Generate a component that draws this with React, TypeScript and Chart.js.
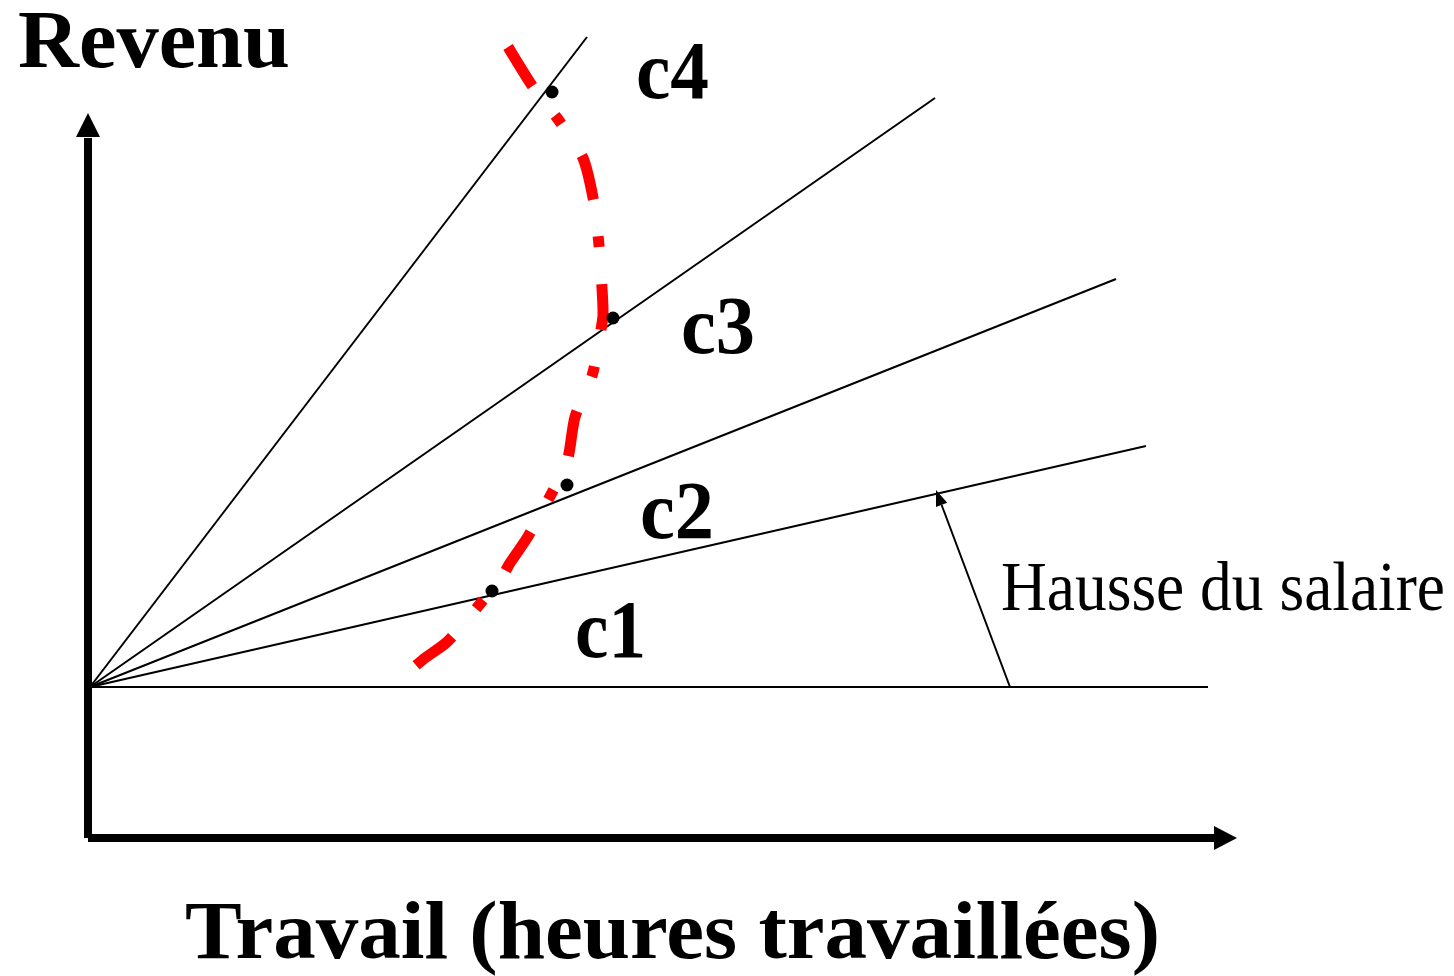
import React, { useEffect, useRef } from "react";
import { Chart, registerables } from "chart.js";

Chart.register(...registerables);

// Data units: x = hours worked, y = income (axis corner at 0,0)
const xMin = -88;
const xMax = 1366;
const yMin = -138;
const yMax = 838;

const axisXEnd = 1149;
const axisYEnd = 725;

const budgetOrigin = { x: 2, y: 151 };
const wageNames = ["w0", "c1", "c2", "c3", "c4"];
const wageEndX = [1120, 1058, 1028, 847, 499];
const wageEndY = [151, 392, 559, 740, 801];

const supplyX = [420, 445, 472, 495, 506, 511, 514, 515, 512, 504, 487, 479, 460, 439, 422, 415, 387, 359, 337, 325];
const supplyY = [791, 751, 716, 680, 635, 593, 550, 523, 503, 462, 421, 376, 338, 300, 275, 263, 228, 196, 180, 170];

const choiceX = [464, 525, 479, 404];
const choiceY = [746, 520, 353, 247];

const raiseX = [922, 848];
const raiseY = [151, 348];

const labelTexts = ["Revenu", "c4", "c3", "c2", "c1", "Hausse du salaire", "Travail (heures travaillées)"];
const labelX = [-70, 548, 593, 552, 487, 913, 97];
const labelY = [771, 740, 485, 300, 181, 228, -120];

const labelStyle = [
  { size: 82, bold: true, width: 272 },
  { size: 82, bold: true, width: 73 },
  { size: 82, bold: true, width: 74 },
  { size: 82, bold: true, width: 74 },
  { size: 82, bold: true, width: 71 },
  { size: 70, bold: false, width: 444 },
  { size: 82, bold: true, width: 975 },
];

function arrowHead(ctx: CanvasRenderingContext2D, x1: number, y1: number, x2: number, y2: number, len: number, half: number) {
  const dx = x2 - x1;
  const dy = y2 - y1;
  const d = Math.hypot(dx, dy);
  const ux = dx / d;
  const uy = dy / d;
  const bx = x2 - ux * len;
  const by = y2 - uy * len;
  ctx.beginPath();
  ctx.moveTo(x2, y2);
  ctx.lineTo(bx - uy * half, by + ux * half);
  ctx.lineTo(bx + uy * half, by - ux * half);
  ctx.closePath();
  ctx.fill();
  return { bx, by };
}

const overlay = {
  id: "overlay",
  beforeDatasetsDraw(chart: any) {
    const ctx: CanvasRenderingContext2D = chart.ctx;
    const xs = chart.scales.x;
    const ys = chart.scales.y;
    ctx.save();
    ctx.fillStyle = "#000";
    ctx.strokeStyle = "#000";
    ctx.lineCap = "butt";
    const ox = xs.getPixelForValue(0);
    const oy = ys.getPixelForValue(0);
    const ty = ys.getPixelForValue(axisYEnd);
    const hv = arrowHead(ctx, ox, oy, ox, ty, 24, 12);
    ctx.lineWidth = 8;
    ctx.beginPath();
    ctx.moveTo(ox, oy);
    ctx.lineTo(ox, hv.by + 1);
    ctx.stroke();
    const tx = xs.getPixelForValue(axisXEnd);
    const hh = arrowHead(ctx, ox, oy, tx, oy, 23, 12);
    ctx.beginPath();
    ctx.moveTo(ox, oy);
    ctx.lineTo(hh.bx + 1, oy);
    ctx.stroke();
    const ax1 = xs.getPixelForValue(raiseX[0]);
    const ay1 = ys.getPixelForValue(raiseY[0]);
    const ax2 = xs.getPixelForValue(raiseX[1]);
    const ay2 = ys.getPixelForValue(raiseY[1]);
    const ha = arrowHead(ctx, ax1, ay1, ax2, ay2, 16, 6);
    ctx.lineWidth = 2;
    ctx.beginPath();
    ctx.moveTo(ax1, ay1);
    ctx.lineTo(ha.bx, ha.by);
    ctx.stroke();
    ctx.restore();
  },
  afterDraw(chart: any) {
    const ctx: CanvasRenderingContext2D = chart.ctx;
    const xs = chart.scales.x;
    const ys = chart.scales.y;
    ctx.save();
    ctx.fillStyle = "#000";
    ctx.textBaseline = "alphabetic";
    ctx.textAlign = "left";
    labelTexts.forEach((t, i) => {
      const st = labelStyle[i];
      ctx.font = `${st.bold ? "bold " : ""}${st.size}px "Liberation Serif", "Times New Roman", serif`;
      const w = ctx.measureText(t).width;
      const sx = st.width / w;
      ctx.save();
      ctx.translate(xs.getPixelForValue(labelX[i]), ys.getPixelForValue(labelY[i]));
      ctx.scale(sx, 1);
      ctx.fillText(t, 0, 0);
      ctx.restore();
    });
    ctx.restore();
  },
};

export default function App() {
  const ref = useRef<HTMLCanvasElement | null>(null);

  useEffect(() => {
    if (!ref.current) return;
    const wageSets = wageNames.map((n, i) => ({
      label: n,
      data: [budgetOrigin, { x: wageEndX[i], y: wageEndY[i] }],
      showLine: true,
      borderColor: "#000",
      borderWidth: 2,
      pointRadius: 0,
      tension: 0,
      order: 3,
    }));
    const chart = new Chart(ref.current, {
      type: "scatter",
      data: {
        datasets: [
          ...wageSets,
          {
            label: "supply",
            data: supplyX.map((x, i) => ({ x, y: supplyY[i] })),
            showLine: true,
            borderColor: "#ff0000",
            borderWidth: 11,
            borderDash: [46, 37, 11, 37],
            borderCapStyle: "butt",
            pointRadius: 0,
            tension: 0.25,
            order: 2,
          },
          {
            label: "choices",
            data: choiceX.map((x, i) => ({ x, y: choiceY[i] })),
            showLine: false,
            pointRadius: 6.5,
            pointBackgroundColor: "#000",
            pointBorderColor: "#000",
            pointBorderWidth: 0,
            order: 1,
          },
        ] as any,
      },
      options: {
        animation: false,
        responsive: false,
        events: [],
        layout: { padding: 0, autoPadding: false },
        plugins: { legend: { display: false }, tooltip: { enabled: false } },
        scales: {
          x: { type: "linear", min: xMin, max: xMax, display: false },
          y: { type: "linear", min: yMin, max: yMax, display: false },
        },
      },
      plugins: [overlay],
    });
    return () => chart.destroy();
  }, []);

  return (
    <div style={{ position: "absolute", left: 0, top: 0, width: 1454, height: 976, background: "#fff" }}>
      <canvas ref={ref} width={1454} height={976} style={{ display: "block" }} />
    </div>
  );
}
